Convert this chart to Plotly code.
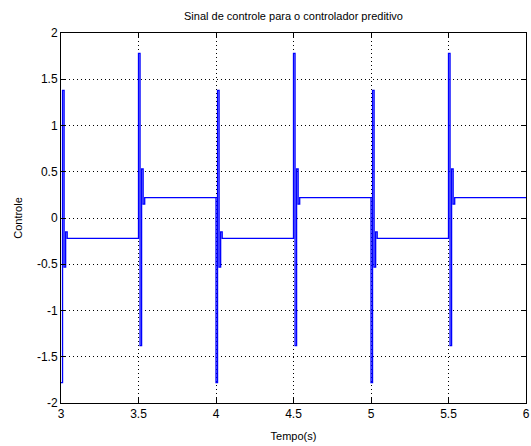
import plotly.graph_objects as go

# Switching instants of the reference (s) and the direction of each switch
switch_times = [3.0, 3.5, 4.0, 4.5, 5.0, 5.5]
switch_dir = ["down", "up", "down", "up", "down", "up"]
t_end = 6.0
Ts = 0.01  # sample period

# Control values
transient_up = [1.78, -1.38, 0.53, 0.15]
steady_up = 0.22
transient_down = [-1.78, 1.38, -0.53, -0.15]
steady_down = -0.22

t, u = [], []
for t0, d in zip(switch_times, switch_dir):
    seq = transient_up if d == "up" else transient_down
    steady = steady_up if d == "up" else steady_down
    for i, v in enumerate(seq):
        t.append(round(t0 + i * Ts, 4))
        u.append(v)
    t.append(round(t0 + len(seq) * Ts, 4))
    u.append(steady)
t.append(t_end)
u.append(u[-1])

FONT = "Liberation Sans, Arial, Helvetica"

fig = go.Figure()
fig.add_trace(go.Scatter(x=t, y=u, mode="lines", line_shape="hv",
                         line=dict(color="#0000ff", width=1.3),
                         showlegend=False, hoverinfo="skip"))

axis_common = dict(showline=True, linecolor="black", linewidth=1, mirror="ticks",
                   ticks="inside", ticklen=5, tickcolor="black",
                   showgrid=True, gridcolor="black", griddash="1px,3px", gridwidth=1,
                   zeroline=False, ticklabeloverflow="allow",
                   tickfont=dict(family=FONT, size=12, color="black"))

fig.update_layout(
    width=531, height=446,
    margin=dict(l=61, r=1, t=33, b=43),
    paper_bgcolor="white", plot_bgcolor="white",
    title=dict(text="Sinal de controle para o controlador preditivo",
               x=0.5, xref="paper", xanchor="center", y=1, yref="container", yanchor="top", pad=dict(t=12),
               font=dict(family=FONT, size=11, color="black")),
    xaxis=dict(range=[3, 6], tickvals=[3, 3.5, 4, 4.5, 5, 5.5, 6],
               ticktext=["3", "3.5", "4", "4.5", "5", "5.5", "6"],
               title=dict(text="Tempo(s)", standoff=11,
                          font=dict(family=FONT, size=11, color="black")),
               **axis_common),
    yaxis=dict(range=[-2, 2], tickvals=[-2, -1.5, -1, -0.5, 0, 0.5, 1, 1.5, 2],
               ticktext=["-2", "-1.5", "-1", "-0.5", "0", "0.5", "1", "1.5", "2"],
               title=dict(text="Controle", standoff=12,
                          font=dict(family=FONT, size=11, color="black")),
               **axis_common),
)

fig.write_html("out.html", config={"displayModeBar": False},
               post_script="document.body.style.margin='0';document.body.style.overflow='hidden';")
